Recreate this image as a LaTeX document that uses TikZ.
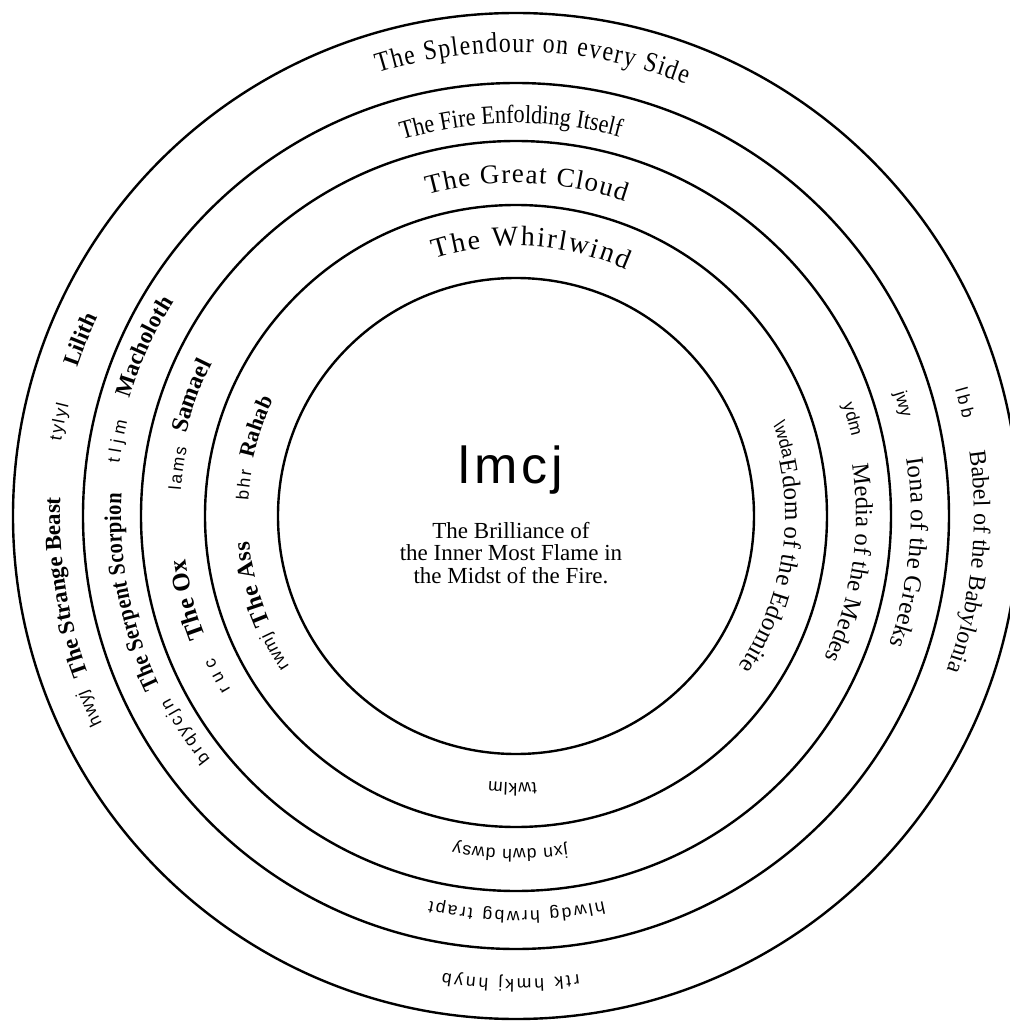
\documentclass[tikz,border=0pt]{standalone}
\usepackage{fontspec}
\setmainfont{Liberation Serif}
\newfontfamily\hebr{Liberation Sans}
\newfontfamily\narrow[FakeStretch=0.85]{Liberation Serif}
\usetikzlibrary{decorations.text}
\newcommand\heb{\fontsize{17.5}{17.5}\hebr}
\newcommand\rom[1]{\fontsize{#1}{#1}\selectfont}
\newcommand\bld[1]{\fontsize{#1}{#1}\selectfont\bfseries}
\newcommand\nrw[1]{\fontsize{#1}{#1}\narrow}

\begin{document}
\begin{tikzpicture}[x=1pt, y=1pt, line width=2.4pt,
  ringtext/.style={decorate, decoration={text along path, text align=fit to path, text={#1}}}]
  \useasboundingbox (-516,-505) rectangle (494,516);
  \begin{scope}
    \clip (-516,-505) rectangle (494,516);
    \foreach \rad in {238,311,375,433,503}
      \draw (0,0) circle[radius=\rad];
  \end{scope}
  \node[inner sep=0] (name) at (-5,46) {\fontsize{52}{52}\hebr\addfontfeature{LetterSpace=8}lmcj};
  \node[inner sep=0, align=center, font=\fontsize{23}{22.5}\selectfont] (meaning) at (-5,-37)
    {The Brilliance of\\the Inner Most Flame in\\the Midst of the Fire.};
  \path[ringtext={|\rom{28}|The Whirlwind}] (107.5:270) arc[start angle=107.5, end angle=65.9, radius=270];
  \path[ringtext={|\rom{27}|The Great Cloud}] (105.4:333) arc[start angle=105.4, end angle=70.9, radius=333];
  \path[ringtext={|\nrw{26}|The Fire Enfolding Itself}] (106.8:393) arc[start angle=106.8, end angle=75, radius=393];
  \path[ringtext={|\nrw{28}|The Splendour on every Side}] (107.3:464) arc[start angle=107.3, end angle=68.5, radius=464];
  \path[ringtext={|\heb|hwyj}] (206.6:463) arc[start angle=206.6, end angle=202, radius=463];
  \path[ringtext={|\bld{23}|The Strange Beast}] (200.3:456) arc[start angle=200.3, end angle=178, radius=456];
  \path[ringtext={|\heb|tylyl}] (170.7:461) arc[start angle=170.7, end angle=166, radius=461];
  \path[ringtext={|\bld{23}|Lilith}] (161.3:463) arc[start angle=161.3, end angle=154.5, radius=463];
  \path[ringtext={|\heb|brqycjn}] (218.6:391) arc[start angle=218.6, end angle=207.7, radius=391];
  \path[ringtext={|\nrw{24}\bfseries|The Serpent Scorpion}] (205.6:395) arc[start angle=205.6, end angle=176.7, radius=395];
  \path[ringtext={|\heb|tljm}] (172.5:400) arc[start angle=172.5, end angle=166.3, radius=400];
  \path[ringtext={|\bld{23}|Macholoth}] (163.1:404) arc[start angle=163.1, end angle=147.9, radius=404];
  \path[ringtext={|\heb|ruc}] (211.3:334) arc[start angle=211.3, end angle=205.1, radius=334];
  \path[ringtext={|\bld{25}|The Ox}] (201.3:333) arc[start angle=201.3, end angle=187.4, radius=333];
  \path[ringtext={|\heb|lams}] (175.6:336) arc[start angle=175.6, end angle=168.3, radius=336];
  \path[ringtext={|\bld{24}|Samael}] (166:340) arc[start angle=166, end angle=153.6, radius=340];
  \path[ringtext={|\heb|rwmj}] (213.6:272) arc[start angle=213.6, end angle=205.2, radius=272];
  \path[ringtext={|\bld{24}|The Ass}] (203.6:268) arc[start angle=203.6, end angle=185.4, radius=268];
  \path[ringtext={|\heb|bhr}] (176.6:268) arc[start angle=176.6, end angle=170.3, radius=268];
  \path[ringtext={|\bld{22}|Rahab}] (167.7:269) arc[start angle=167.7, end angle=154.6, radius=269];
  \path[ringtext={|\heb|{\textbackslash}wda}] (19.8:273) arc[start angle=19.8, end angle=12.8, radius=273];
  \path[ringtext={|\rom{25}|Edom of the Edomite}] (11.8:269) arc[start angle=11.8, end angle=-34.1, radius=269];
  \path[ringtext={|\heb|ydm}] (18.8:345) arc[start angle=18.8, end angle=13.9, radius=345];
  \path[ringtext={|\rom{24.5}|Media of the Medes}] (8.7:340) arc[start angle=8.7, end angle=-24.8, radius=340];
  \path[ringtext={|\heb|jwy}] (17.9:398) arc[start angle=17.9, end angle=14.5, radius=398];
  \path[ringtext={|\rom{25}|Iona of the Greeks}] (8.4:395) arc[start angle=8.4, end angle=-19, radius=395];
  \path[ringtext={|\heb|lbb}] (16.1:457) arc[start angle=16.1, end angle=12.2, radius=457];
  \path[ringtext={|\rom{24}|Babel of the Babylonia}] (8.1:458) arc[start angle=8.1, end angle=-19.6, radius=458];
  \path[ringtext={|\heb|twklm}] (274.4:267) arc[start angle=274.4, end angle=264.1, radius=267];
  \path[ringtext={|\heb|jxn dwh dwsy}] (278.8:333) arc[start angle=278.8, end angle=259.2, radius=333];
  \path[ringtext={|\heb|hlwdg hrwbg trapt}] (282.8:395) arc[start angle=282.8, end angle=257.4, radius=395];
  \path[ringtext={|\heb|rtk hmkj hnyb}] (277.8:463) arc[start angle=277.8, end angle=260.9, radius=463];
\end{tikzpicture}
\end{document}
